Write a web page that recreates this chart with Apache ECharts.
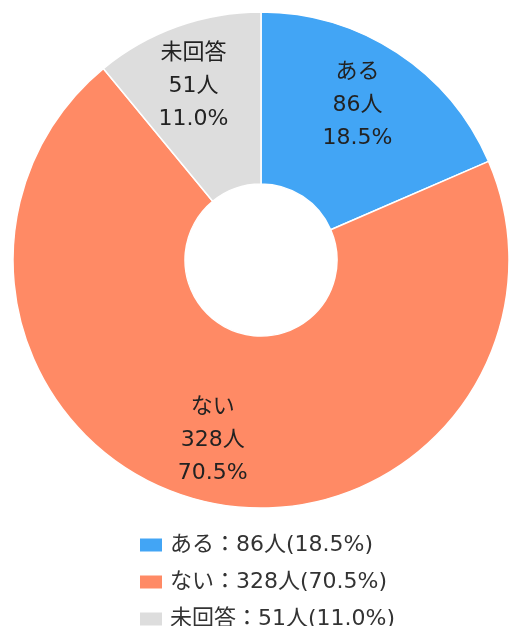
<!DOCTYPE html>
<html>
<head>
<meta charset="utf-8">
<script src="https://cdn.jsdelivr.net/npm/echarts@6/dist/echarts.min.js"></script>
<style>
  html, body { margin: 0; padding: 0; background: #fff; }
  #chart { width: 511px; height: 626px; }
</style>
</head>
<body>
<div id="chart"></div>
<script>
  // answers and counts (people)
  const categories = ["ある", "ない", "未回答"];
  const counts = [86, 328, 51];
  const colors = ["#42a5f5", "#ff8a65", "#dddddd"];

  const total = counts.reduce((a, b) => a + b, 0);
  const pct = (v) => (v / total * 100).toFixed(1);

  const pieData = categories.map((name, i) => ({
    name: name,
    value: counts[i],
    itemStyle: { color: colors[i] }
  }));

  const font = '"DejaVu Sans", "Noto Sans CJK JP", sans-serif';

  let chart = echarts.init(document.getElementById("chart"));

  let option = {
    animation: false,
    legend: {
      orient: "vertical",
      left: 138,
      top: 534,
      height: 100,
      padding: 0,
      itemWidth: 24,
      itemHeight: 15,
      itemGap: 15,
      icon: "rect",
      data: categories,
      textStyle: { fontSize: 22, color: "#333", fontFamily: font, lineHeight: 20, padding: [0, 0, 0, 2] },
      formatter: function (name) {
        let v = counts[categories.indexOf(name)];
        return name + "：" + v + "人(" + pct(v) + "%)";
      }
    },
    series: [
      {
        type: "pie",
        center: [261, 260],
        radius: [76, 248],
        startAngle: 90,
        clockwise: true,
        data: pieData,
        itemStyle: { borderColor: "#fff", borderWidth: 1.5 },
        label: { show: false },
        labelLine: { show: false },
        emphasis: { disabled: true }
      },
      {
        // transparent ring used only to place the labels a bit further out
        type: "pie",
        center: [256, 260],
        radius: [116, 248],
        startAngle: 90,
        clockwise: true,
        silent: true,
        data: categories.map((name, i) => ({ name: name, value: counts[i] })),
        itemStyle: { color: "rgba(0,0,0,0)", borderWidth: 0 },
        label: {
          show: true,
          position: "inside",
          fontSize: 22,
          lineHeight: 33,
          color: "#222",
          fontFamily: font,
          formatter: function (p) {
            return p.name + "\n" + p.value + "人\n" + pct(p.value) + "%";
          }
        },
        labelLine: { show: false },
        emphasis: { disabled: true }
      }
    ]
  };

  chart.setOption(option);
</script>
</body>
</html>
